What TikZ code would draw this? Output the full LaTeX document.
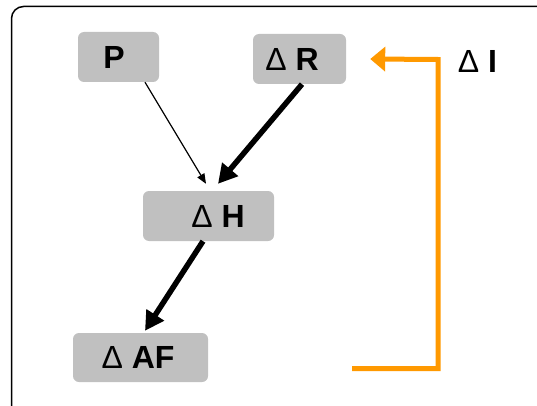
\documentclass[tikz,border=0pt]{standalone}
\usepackage{fontspec}
\setmainfont{Liberation Sans}
\usetikzlibrary{arrows.meta}
\definecolor{boxgray}{HTML}{C0C0C0}
\definecolor{fborange}{HTML}{FF9900}
\begin{document}
\begin{tikzpicture}[x=1pt,y=1pt,
  gbox/.style={fill=boxgray, rounded corners=6pt, inner sep=0pt, font=\fontsize{32}{34}\selectfont},
  thinarrow/.style={line width=1.2pt, -{Triangle[length=10pt,width=8pt]}},
  thickarrow/.style={line width=5.5pt, -{Triangle[length=19pt,width=20pt]}},
  fbline/.style={draw=fborange, line width=5pt, -{Triangle[length=15pt,width=24pt]}}
]
\useasboundingbox (0,0) rectangle (537,405);
\clip (0,0) rectangle (537,405);
\fill[white] (0,0) rectangle (537,405);
\draw[line width=1.5pt, rounded corners=12pt] (11.5,-20) rectangle (570,398.5);

\node[gbox, minimum width=81pt, minimum height=50pt] (P) at (118.5,348) {\hspace{-9pt}\textbf{P}};
\node[gbox, minimum width=93pt, minimum height=50pt] (R) at (299.5,346) {\hspace{-15pt}Δ \textbf{R}};
\node[gbox, minimum width=131pt, minimum height=50pt] (H) at (208.5,189) {\hspace{19pt}Δ \textbf{H}};
\node[gbox, minimum width=135pt, minimum height=49pt] (AF) at (140.5,47.5) {\hspace{-5pt}Δ \textbf{AF}};
\node[font=\fontsize{32}{34}\selectfont, inner sep=0pt] (I) at (477.5,344) {Δ \textbf{I}};

\draw[thinarrow] ([xshift=26.5pt]P.south) -- ([xshift=-2.5pt,yshift=7pt]H.north);
\draw[thickarrow] ([xshift=2.5pt]R.south) -- ([xshift=9.5pt,yshift=7pt]H.north);
\draw[thickarrow] ([xshift=-5.5pt]H.south) -- ([xshift=4.5pt,yshift=2pt]AF.north);

\coordinate (fbstart) at (352,36.5);
\coordinate (fbtip) at ([xshift=24pt]R.east);
\draw[fbline] (fbstart) -- (438,36.5) -- (438,345.5) -- (fbtip);
\end{tikzpicture}
\end{document}
